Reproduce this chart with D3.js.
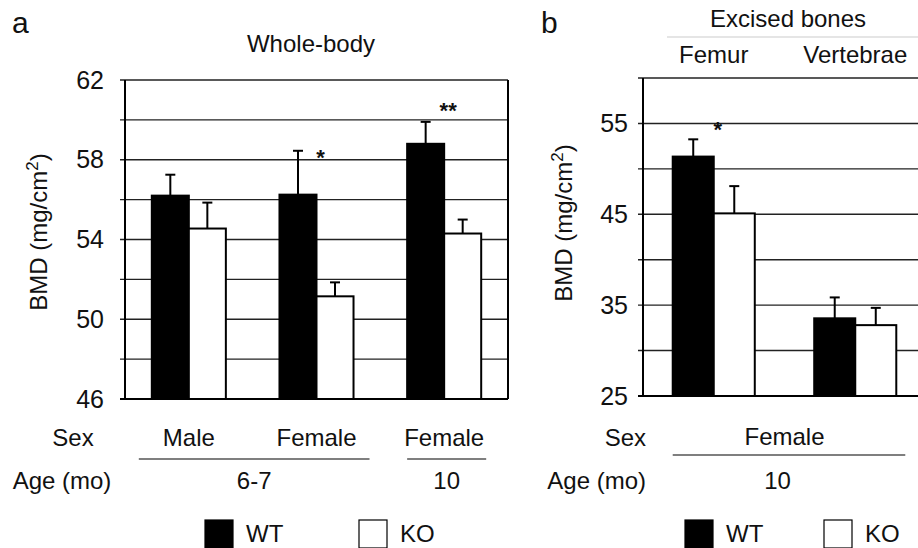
<!DOCTYPE html>
<html>
<head>
<meta charset="utf-8">
<script src="https://cdn.jsdelivr.net/npm/d3@7"></script>
<style>
  body { margin: 0; background: #fff; }
  text { font-family: "Liberation Sans", Arial, sans-serif; fill: #111; }
</style>
</head>
<body>
<svg id="chart" width="918" height="548"></svg>
<script>
// panel a: whole-body BMD
var groupsA = ["Male 6-7", "Female 6-7", "Female 10"];
var sexA = ["Male", "Female", "Female"];
var wtA = [56.2, 56.25, 58.8];
var wtErrA = [1.05, 2.2, 1.1];
var koA = [54.55, 51.15, 54.3];
var koErrA = [1.3, 0.7, 0.7];
var sigA = ["", "*", "**"];
var sigLevelA = [0, 58.35, 60.7];
var ticksA = [46, 48, 50, 52, 54, 56, 58, 60, 62];
var labelsA = [46, 50, 54, 58, 62];

// panel b: excised bones
var groupsB = ["Femur", "Vertebrae"];
var wtB = [51.35, 33.55];
var wtErrB = [1.9, 2.3];
var koB = [45.1, 32.8];
var koErrB = [3.0, 1.9];
var sigB = ["*", ""];
var sigLevelB = [54.8, 0];
var ticksB = [25, 30, 35, 40, 45, 50, 55, 60];
var labelsB = [25, 35, 45, 55];

var series = ["WT", "KO"];
var colors = { WT: "#000", KO: "#fff" };

var svg = d3.select("#chart");

function drawPanel(opt) {
    var g = svg.append("g");
    var y = d3.scaleLinear().domain(opt.domain).range([opt.bottom, opt.top]);
    var x = d3.scaleBand().domain(opt.groups).range([opt.left, opt.right])
        .paddingInner(0.42).paddingOuter(0.21);
    var xs = d3.scaleBand().domain(series).range([0, x.bandwidth()]);

    // grid lines
    g.selectAll(".grid").data(opt.ticks).enter().append("line")
        .attr("x1", opt.left - 5).attr("x2", opt.gridEnd)
        .attr("y1", function (d) { return y(d); })
        .attr("y2", function (d) { return y(d); })
        .attr("stroke", "#222").attr("stroke-width", 1.4);

    // tick labels
    g.append("g")
        .attr("transform", "translate(" + opt.left + ",0)")
        .call(d3.axisLeft(y).tickValues(opt.labels).tickSize(0).tickPadding(opt.pad))
        .call(function (a) { a.select(".domain").remove(); })
        .selectAll("text")
        .style("font-size", "25px")
        .attr("fill", "#111");

    var rows = opt.groups.map(function (k, i) {
        return [
            { g: k, s: "WT", v: opt.wt[i], e: opt.wtErr[i] },
            { g: k, s: "KO", v: opt.ko[i], e: opt.koErr[i] }
        ];
    });
    var flat = [].concat.apply([], rows);

    g.selectAll(".bar").data(flat).enter().append("rect")
        .attr("x", function (d) { return x(d.g) + xs(d.s); })
        .attr("y", function (d) { return y(d.v); })
        .attr("width", xs.bandwidth())
        .attr("height", function (d) { return y(opt.domain[0]) - y(d.v); })
        .attr("fill", function (d) { return colors[d.s]; })
        .attr("stroke", "#000").attr("stroke-width", 2);

    // error bars, upper half only
    var eb = g.selectAll(".err").data(flat).enter().append("g")
        .attr("transform", function (d) { return "translate(" + (x(d.g) + xs(d.s) + xs.bandwidth() / 2) + ",0)"; });
    eb.append("line")
        .attr("y1", function (d) { return y(d.v); })
        .attr("y2", function (d) { return y(d.v + d.e); })
        .attr("stroke", "#000").attr("stroke-width", 2);
    eb.append("line")
        .attr("x1", -5).attr("x2", 5)
        .attr("y1", function (d) { return y(d.v + d.e); })
        .attr("y2", function (d) { return y(d.v + d.e); })
        .attr("stroke", "#000").attr("stroke-width", 2);

    // significance
    g.selectAll(".sig").data(opt.groups).enter().append("text")
        .attr("x", function (d) { return x(d) + x.bandwidth() / 2 + 4; })
        .attr("y", function (d, i) { return y(opt.sigLevel[i]) + 12; })
        .attr("text-anchor", "middle")
        .style("font-size", "22px").style("font-weight", "bold")
        .text(function (d, i) { return opt.sig[i]; });

    // axis frame
    g.append("line").attr("x1", opt.left).attr("x2", opt.left)
        .attr("y1", y(opt.domain[1])).attr("y2", y(opt.domain[0]))
        .attr("stroke", "#000").attr("stroke-width", 2);
    g.append("line").attr("x1", opt.left - 5).attr("x2", opt.gridEnd)
        .attr("y1", y(opt.domain[0])).attr("y2", y(opt.domain[0]))
        .attr("stroke", "#000").attr("stroke-width", 2.2);
    if (opt.frameRight) {
        g.append("line").attr("x1", opt.right).attr("x2", opt.right)
            .attr("y1", y(opt.domain[1])).attr("y2", y(opt.domain[0]))
            .attr("stroke", "#000").attr("stroke-width", 2);
    }

    // y label
    var yl = g.append("text")
        .attr("transform", "translate(" + opt.yLabelX + "," + opt.yLabelY + ") rotate(-90)")
        .attr("text-anchor", "middle")
        .style("font-size", "24px");
    yl.append("tspan").text("BMD (mg/cm");
    yl.append("tspan").attr("dy", -9).style("font-size", "17px").text("2");
    yl.append("tspan").attr("dy", 9).text(")");

    return { g: g, x: x, y: y };
}

var pa = drawPanel({
    groups: groupsA, wt: wtA, wtErr: wtErrA, ko: koA, koErr: koErrA,
    sig: sigA, sigLevel: sigLevelA, ticks: ticksA, labels: labelsA,
    domain: [46, 62], top: 80, bottom: 399, left: 125, right: 508, gridEnd: 508,
    frameRight: true, pad: 21, yLabelX: 47, yLabelY: 232
});

var pb = drawPanel({
    groups: groupsB, wt: wtB, wtErr: wtErrB, ko: koB, koErr: koErrB,
    sig: sigB, sigLevel: sigLevelB, ticks: ticksB, labels: labelsB,
    domain: [25, 60], top: 78, bottom: 396, left: 643, right: 926, gridEnd: 926,
    frameRight: false, pad: 15, yLabelX: 572, yLabelY: 223
});

function label(t, x, y, size, anchor, fill) {
    svg.append("text").attr("x", x).attr("y", y)
        .attr("text-anchor", anchor || "middle")
        .style("font-size", (size || 24) + "px")
        .attr("fill", fill || "#111")
        .text(t);
}

// panel letters and titles
label("a", 12, 33, 30, "start");
label("b", 541, 33, 30, "start");
label("Whole-body", 311, 52, 24);
label("Excised bones", 788, 27, 24);
svg.append("line").attr("x1", 667).attr("x2", 918).attr("y1", 37).attr("y2", 37)
    .attr("stroke", "#ccc").attr("stroke-width", 1.2);
groupsB.forEach(function (d) {
    label(d, pb.x(d) + pb.x.bandwidth() / 2, 63, 24);
});

// sex / age rows, panel a
label("Sex", 73, 446, 24);
label("Age (mo)", 62, 489, 24);
groupsA.forEach(function (d, i) {
    label(sexA[i], pa.x(d) + pa.x.bandwidth() / 2, 446, 24);
});
var ageA = [{ t: "6-7", from: 0, to: 1, padL: 13, padR: 16 }, { t: "10", from: 2, to: 2, padL: 0, padR: 5 }];
ageA.forEach(function (a) {
    var x0 = pa.x(groupsA[a.from]) - a.padL;
    var x1 = pa.x(groupsA[a.to]) + pa.x.bandwidth() + a.padR;
    svg.append("line").attr("x1", x0).attr("x2", x1).attr("y1", 459).attr("y2", 459)
        .attr("stroke", "#555").attr("stroke-width", 1.5);
    label(a.t, (x0 + x1) / 2, 489, 24);
});

// sex / age rows, panel b
label("Sex", 646, 446, 24, "end");
label("Age (mo)", 646, 489, 24, "end");
var bx0 = pb.x(groupsB[0]), bx1 = pb.x(groupsB[1]) + pb.x.bandwidth();
svg.append("line").attr("x1", bx0).attr("x2", bx1 + 9).attr("y1", 455).attr("y2", 455)
    .attr("stroke", "#555").attr("stroke-width", 1.5);
label("Female", (bx0 + bx1) / 2, 445, 24);
label("10", (bx0 + bx1) / 2 - 7, 489, 24);

// legends
function legend(x0) {
    var items = [{ s: "WT", dx: 0 }, { s: "KO", dx: x0.gap }];
    items.forEach(function (it) {
        svg.append("rect").attr("x", x0.x + it.dx).attr("y", 520)
            .attr("width", 28).attr("height", 28)
            .attr("fill", colors[it.s]).attr("stroke", "#000").attr("stroke-width", 1.2);
        label(it.s, x0.x + it.dx + 41, 542, 24, "start");
    });
}
legend({ x: 205, gap: 154 });
legend({ x: 685, gap: 139 });
</script>
</body>
</html>
